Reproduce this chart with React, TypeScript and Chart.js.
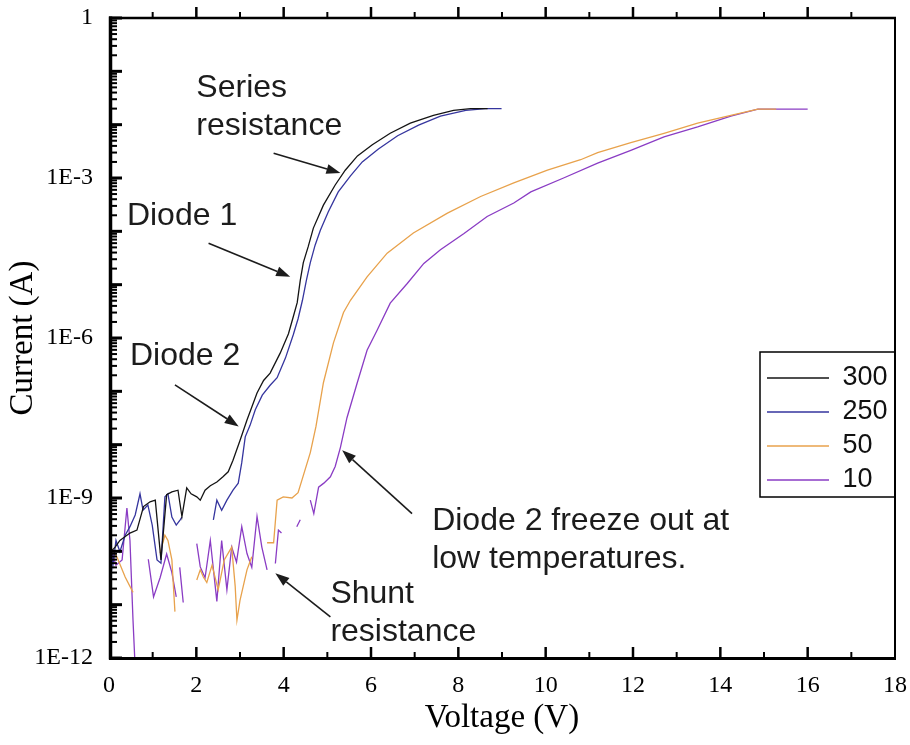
import React, { useEffect, useRef } from 'react';
import { Chart, registerables } from 'chart.js';

Chart.register(...registerables);

// ---------- data (voltage in V, current in A) ----------
const SERIES_LABELS = ['300', '250', '50', '10'];
const SERIES_COLORS = ['#141414', '#35359e', '#e8a24c', '#8a3cc4'];

const V_300 = [0.05, 0.14, 0.25, 0.48, 0.64, 0.79, 0.94, 1.06, 1.19, 1.32, 1.44, 1.58, 1.67, 1.78, 1.88, 2.01, 2.09, 2.20, 2.32, 2.47, 2.61, 2.73, 2.84, 3.00, 3.16, 3.39, 3.54, 3.69, 3.92, 4.11, 4.22, 4.31, 4.38, 4.45, 4.56, 4.68, 4.91, 5.18, 5.41, 5.69, 6.03, 6.44, 6.90, 7.43, 7.89, 8.28, 8.67];
const I_300 = [1.0e-10, 1.2e-10, 1.6e-10, 2.2e-10, 2.5e-10, 6.9e-10, 8.5e-10, 9.1e-10, 6.9e-11, 1.15e-9, 1.3e-9, 1.4e-9, 4.5e-10, 1.55e-9, 1.2e-9, 1.05e-9, 9.1e-10, 1.4e-9, 1.7e-9, 2.0e-9, 2.5e-9, 3.1e-9, 5.1e-9, 1.2e-8, 2.9e-8, 9.3e-8, 1.6e-7, 2.2e-7, 5.2e-7, 1.2e-6, 2.5e-6, 4.6e-6, 1.2e-5, 2.6e-5, 5.1e-5, 1.15e-4, 3.1e-4, 7.4e-4, 1.4e-3, 2.6e-3, 4.2e-3, 6.9e-3, 1.07e-2, 1.5e-2, 1.86e-2, 2.0e-2, 2.0e-2];

const V_250 = [0.05, 0.09, 0.16, 0.25, 0.37, 0.48, 0.60, 0.71, 0.78, 0.89, 0.99, 1.10, 1.19, 1.28, 1.35, 1.44, 1.54, 1.63, 1.67, 2.0, 2.39, 2.47, 2.58, 2.70, 2.84, 2.96, 3.04, 3.12, 3.23, 3.35, 3.51, 3.69, 3.85, 4.04, 4.22, 4.33, 4.43, 4.52, 4.61, 4.72, 4.84, 5.02, 5.25, 5.53, 5.80, 6.17, 6.61, 7.09, 7.59, 8.17, 8.62, 8.99];
const I_250 = [1.15e-10, 5.5e-11, 1.6e-10, 9.8e-11, 2.0e-10, 2.9e-10, 4.8e-10, 1.2e-9, 5.9e-10, 7.4e-10, 3.1e-10, 6.9e-11, 6.0e-11, 1.05e-9, 1.2e-9, 4.4e-10, 3.1e-10, 3.9e-10, 4.4e-10, null, 3.9e-10, 9.1e-10, 5.9e-10, 9.1e-10, 1.4e-9, 1.9e-9, 4.6e-9, 1.4e-8, 2.3e-8, 4.5e-8, 8.5e-8, 1.3e-7, 1.8e-7, 4.2e-7, 1.15e-6, 2.3e-6, 5.1e-6, 1.2e-5, 2.6e-5, 5.5e-5, 1.05e-4, 2.3e-4, 5.5e-4, 1.1e-3, 2.0e-3, 3.5e-3, 6.2e-3, 9.8e-3, 1.45e-2, 1.86e-2, 2.0e-2, 2.0e-2];

const V_50 = [0.05, 0.18, 0.37, 0.55, 0.8, 1.17, 1.28, 1.35, 1.44, 1.51, 1.8, 2.01, 2.09, 2.16, 2.24, 2.36, 2.50, 2.64, 2.81, 2.89, 2.93, 3.00, 3.16, 3.27, 3.45, 3.62, 3.77, 3.85, 3.99, 4.19, 4.33, 4.46, 4.61, 4.74, 4.91, 5.14, 5.37, 5.53, 5.91, 6.37, 6.97, 7.75, 8.51, 9.27, 10.04, 10.80, 11.19, 11.95, 12.71, 13.48, 14.24, 14.86, 15.28];
const I_50 = [1.15e-10, 7.9e-11, 3.3e-11, 1.7e-11, null, 9.3e-11, 2.0e-10, 1.6e-10, 6.9e-11, 7.4e-12, null, 2.9e-11, 4.5e-11, 3.3e-11, 2.6e-11, 5.5e-11, 1.9e-11, 6.9e-11, 1.2e-10, 2.2e-11, 5.1e-12, 1.2e-11, 4.5e-11, 7.9e-11, null, 1.45e-10, 1.45e-10, 9.1e-10, 1.05e-9, 1.0e-9, 1.26e-9, 2.8e-9, 7.1e-9, 2.2e-8, 1.45e-7, 8.1e-7, 3.0e-6, 5.1e-6, 1.4e-5, 3.9e-5, 9.3e-5, 2.2e-4, 4.5e-4, 8.1e-4, 1.4e-3, 2.2e-3, 3.0e-3, 4.6e-3, 6.9e-3, 1.07e-2, 1.5e-2, 1.95e-2, 1.95e-2];

const V_10 = [0.05, 0.16, 0.30, 0.41, 0.48, 0.55, 0.60, 0.75, 0.90, 1.02, 1.17, 1.32, 1.44, 1.54, 1.58, 1.62, 1.70, 1.85, 2.01, 2.09, 2.20, 2.32, 2.47, 2.58, 2.70, 2.81, 2.92, 3.04, 3.16, 3.27, 3.39, 3.50, 3.62, 3.70, 3.81, 3.88, 3.95, 4.10, 4.30, 4.38, 4.50, 4.61, 4.69, 4.80, 4.92, 5.07, 5.18, 5.30, 5.45, 5.68, 5.91, 6.14, 6.44, 6.83, 7.21, 7.59, 8.13, 8.66, 9.27, 9.66, 10.41, 11.19, 11.95, 12.71, 13.48, 14.24, 14.86, 16.0];
const I_10 = [1.05e-10, 5.5e-11, 6.9e-11, 6.5e-10, 1.6e-10, 5.1e-12, 6.3e-13, null, 7.1e-11, 1.4e-11, 3.2e-11, 8.9e-11, 4.0e-11, 1.4e-11, null, 5.0e-11, 1.1e-11, null, 1.4e-10, 5.1e-11, 3.2e-11, 1.6e-10, 1.15e-11, 1.6e-10, 1.9e-11, 1.2e-10, 6.3e-11, 2.9e-10, 9.1e-11, 5.0e-11, 4.5e-10, 1.2e-10, 4.5e-11, null, 5.9e-11, 2.5e-10, 2.2e-10, null, 2.9e-10, 3.9e-10, null, 9.1e-10, 5.1e-10, 1.6e-9, 1.9e-9, 2.5e-9, 3.9e-9, 8.9e-9, 3.2e-8, 1.4e-7, 5.9e-7, 1.4e-6, 4.5e-6, 1.05e-5, 2.5e-5, 4.5e-5, 9.1e-5, 1.9e-4, 3.4e-4, 5.5e-4, 1.0e-3, 1.9e-3, 3.3e-3, 5.9e-3, 9.1e-3, 1.45e-2, 1.95e-2, 1.95e-2];

const SERIES_V = [V_300, V_250, V_50, V_10];
const SERIES_I = [I_300, I_250, I_50, I_10];

// axes
const X_MIN = 0;
const X_MAX = 18;
const X_STEP = 2;
const Y_MIN = 1e-12;
const Y_MAX = 1;
const Y_TICK_VALUES = [1, 1e-3, 1e-6, 1e-9, 1e-12];
const Y_TICK_LABELS = ['1', '1E-3', '1E-6', '1E-9', '1E-12'];

// annotations: text lines, first baseline-left anchor (V, A), arrow tail -> head (V, A)
const ANNOTATIONS = [
  { lines: ['Series', 'resistance'], at: [2.0, 0.033], from: [3.77, 2.9e-3], to: [5.3, 1.24e-3] },
  { lines: ['Diode 1'], at: [0.41, 1.32e-4], from: [2.28, 6.0e-5], to: [4.15, 1.41e-5] },
  { lines: ['Diode 2'], at: [0.48, 3.1e-7], from: [1.51, 1.32e-7], to: [2.97, 2.2e-8] },
  { lines: ['Diode 2 freeze out at', 'low temperatures.'], at: [7.4, 2.5e-10], from: [6.94, 5.1e-10], to: [5.34, 7.9e-9] },
  { lines: ['Shunt', 'resistance'], at: [5.07, 1.07e-11], from: [5.07, 5.9e-12], to: [3.81, 3.9e-11] },
];

const SERIF = '"Liberation Serif", "Times New Roman", serif';
const SANS = '"Liberation Sans", Arial, sans-serif';

function seg(ctx: CanvasRenderingContext2D, x1: number, y1: number, x2: number, y2: number) {
  ctx.beginPath();
  ctx.moveTo(x1, y1);
  ctx.lineTo(x2, y2);
  ctx.stroke();
}

const legendPlacePlugin = {
  id: 'legendPlace',
  afterLayout(chart: any) {
    const lg = chart.legend;
    if (!lg) return;
    const ca = chart.chartArea;
    const left = ca.right - 135;
    const top = ca.top + 334 + 5.5;
    lg.left = left;
    lg.top = top;
    lg.width = 135;
    lg.height = 150;
    lg.right = left + 135;
    lg.bottom = top + 150;
  },
};

const framePlugin = {
  id: 'frame',
  afterDatasetsDraw(chart: any) {
    const { ctx, chartArea: ca, scales } = chart;
    const xs = scales.x;
    const ys = scales.y;
    ctx.save();
    ctx.strokeStyle = '#000';
    ctx.lineCap = 'butt';
    // right & top borders
    ctx.lineWidth = 2;
    seg(ctx, ca.right, ca.top, ca.right, ca.bottom + 1);
    ctx.lineWidth = 2.5;
    seg(ctx, ca.left, ca.top, ca.right + 1, ca.top);
    // left & bottom axes
    ctx.lineWidth = 3.5;
    seg(ctx, ca.left + 1.5, ca.top - 1.5, ca.left + 1.5, ca.bottom + 1.5);
    ctx.lineWidth = 3;
    seg(ctx, ca.left, ca.bottom + 0.5, ca.right + 1, ca.bottom + 0.5);
    // x ticks (bottom inward, top outward)
    for (let v = X_MIN; v <= X_MAX; v += X_STEP / 2) {
      const px = xs.getPixelForValue(v);
      const major = Math.abs(v / X_STEP - Math.round(v / X_STEP)) < 1e-6;
      ctx.lineWidth = major ? 2.5 : 2;
      const len = major ? 11 : 6;
      if (v > X_MIN && v < X_MAX) {
        seg(ctx, px, ca.bottom, px, ca.bottom - len);
        seg(ctx, px, ca.top, px, ca.top - len);
      }
    }
    // y ticks (left, inward), decades + 2..9
    const e0 = Math.round(Math.log10(Y_MIN));
    const e1 = Math.round(Math.log10(Y_MAX));
    for (let e = e0; e <= e1; e++) {
      for (let m = 1; m <= 9; m++) {
        const v = m * Math.pow(10, e);
        if (v > Y_MAX * 1.0001) break;
        const py = ys.getPixelForValue(v);
        ctx.lineWidth = m === 1 ? 3 : 2;
        seg(ctx, ca.left, py, ca.left + (m === 1 ? 13 : 8), py);
      }
    }
    // legend frame
    const lg = chart.legend;
    if (lg) {
      ctx.lineWidth = 1.5;
      ctx.strokeRect(lg.left, lg.top - 5.5, lg.right - lg.left, 145);
    }
    ctx.restore();
  },
};

const annotationPlugin = {
  id: 'notes',
  afterDatasetsDraw(chart: any) {
    const { ctx, scales } = chart;
    const xs = scales.x;
    const ys = scales.y;
    ctx.save();
    ctx.font = `32px ${SANS}`;
    ctx.fillStyle = '#1c1c1c';
    ctx.textAlign = 'left';
    ctx.textBaseline = 'alphabetic';
    const lineGap = 38;
    for (const a of ANNOTATIONS) {
      const tx = xs.getPixelForValue(a.at[0]);
      const ty = ys.getPixelForValue(a.at[1]);
      a.lines.forEach((t, i) => ctx.fillText(t, tx, ty + i * lineGap));
      const x1 = xs.getPixelForValue(a.from[0]);
      const y1 = ys.getPixelForValue(a.from[1]);
      const x2 = xs.getPixelForValue(a.to[0]);
      const y2 = ys.getPixelForValue(a.to[1]);
      const ang = Math.atan2(y2 - y1, x2 - x1);
      const hl = 14;
      const hw = 5;
      const bx = x2 - hl * Math.cos(ang);
      const by = y2 - hl * Math.sin(ang);
      ctx.strokeStyle = '#1c1c1c';
      ctx.lineWidth = 1.6;
      seg(ctx, x1, y1, bx, by);
      ctx.beginPath();
      ctx.moveTo(x2, y2);
      ctx.lineTo(bx + hw * Math.sin(ang), by - hw * Math.cos(ang));
      ctx.lineTo(bx - hw * Math.sin(ang), by + hw * Math.cos(ang));
      ctx.closePath();
      ctx.fill();
    }
    ctx.restore();
  },
};

export default function App() {
  const ref = useRef<HTMLCanvasElement | null>(null);

  useEffect(() => {
    if (!ref.current) return;
    const datasets = SERIES_LABELS.map((label, k) => ({
      label,
      data: SERIES_V[k].map((v, i) => ({ x: v, y: SERIES_I[k][i] })),
      borderColor: SERIES_COLORS[k],
      backgroundColor: SERIES_COLORS[k],
      borderWidth: 1.3,
      pointRadius: 0,
      tension: 0,
      spanGaps: false,
    }));

    const chart = new Chart(ref.current, {
      type: 'line',
      data: { datasets },
      options: {
        animation: false,
        responsive: false,
        devicePixelRatio: 1,
        layout: { padding: { top: 18, right: 15, bottom: 0, left: 0 } },
        scales: {
          x: {
            type: 'linear',
            min: X_MIN,
            max: X_MAX,
            ticks: {
              stepSize: X_STEP,
              padding: 13,
              autoSkip: false,
              maxRotation: 0,
              color: '#000',
              font: { family: SERIF, size: 24 },
            },
            grid: { display: false, drawTicks: false },
            border: { display: false },
            title: {
              display: true,
              text: 'Voltage (V)',
              color: '#000',
              font: { family: SERIF, size: 33 },
              padding: { top: 0, bottom: 7 },
            },
            afterFit: (s: any) => {
              s.height = 87;
              s.paddingLeft = 0;
              s.paddingRight = 0;
            },
          },
          y: {
            type: 'logarithmic',
            min: Y_MIN,
            max: Y_MAX,
            afterBuildTicks: (s: any) => {
              s.ticks = Y_TICK_VALUES.map((v) => ({ value: v, major: true }));
            },
            ticks: {
              padding: 16,
              autoSkip: false,
              color: '#000',
              font: { family: SERIF, size: 24 },
              callback: (_v: any, i: number) => Y_TICK_LABELS[i] ?? '',
            },
            grid: { display: false, drawTicks: false },
            border: { display: false },
            title: {
              display: true,
              text: 'Current (A)',
              color: '#000',
              font: { family: SERIF, size: 33 },
              padding: { top: 4, bottom: 0 },
            },
            afterFit: (s: any) => {
              s.width = 109;
              s.paddingTop = 0;
              s.paddingBottom = 0;
            },
          },
        },
        plugins: {
          legend: {
            position: 'chartArea',
            align: 'start',
            labels: {
              usePointStyle: true,
              pointStyle: 'line',
              pointStyleWidth: 62,
              padding: 7,
              color: '#111',
              font: { family: SANS, size: 27 },
            },
          },
          tooltip: { enabled: false },
        },
      } as any,
      plugins: [legendPlacePlugin, framePlugin, annotationPlugin],
    });
    return () => chart.destroy();
  }, []);

  return (
    <div style={{ position: 'fixed', left: 0, top: 0, width: 910, height: 745, background: '#fff' }}>
      <canvas ref={ref} width={910} height={745} style={{ display: 'block', width: 910, height: 745 }} />
    </div>
  );
}
